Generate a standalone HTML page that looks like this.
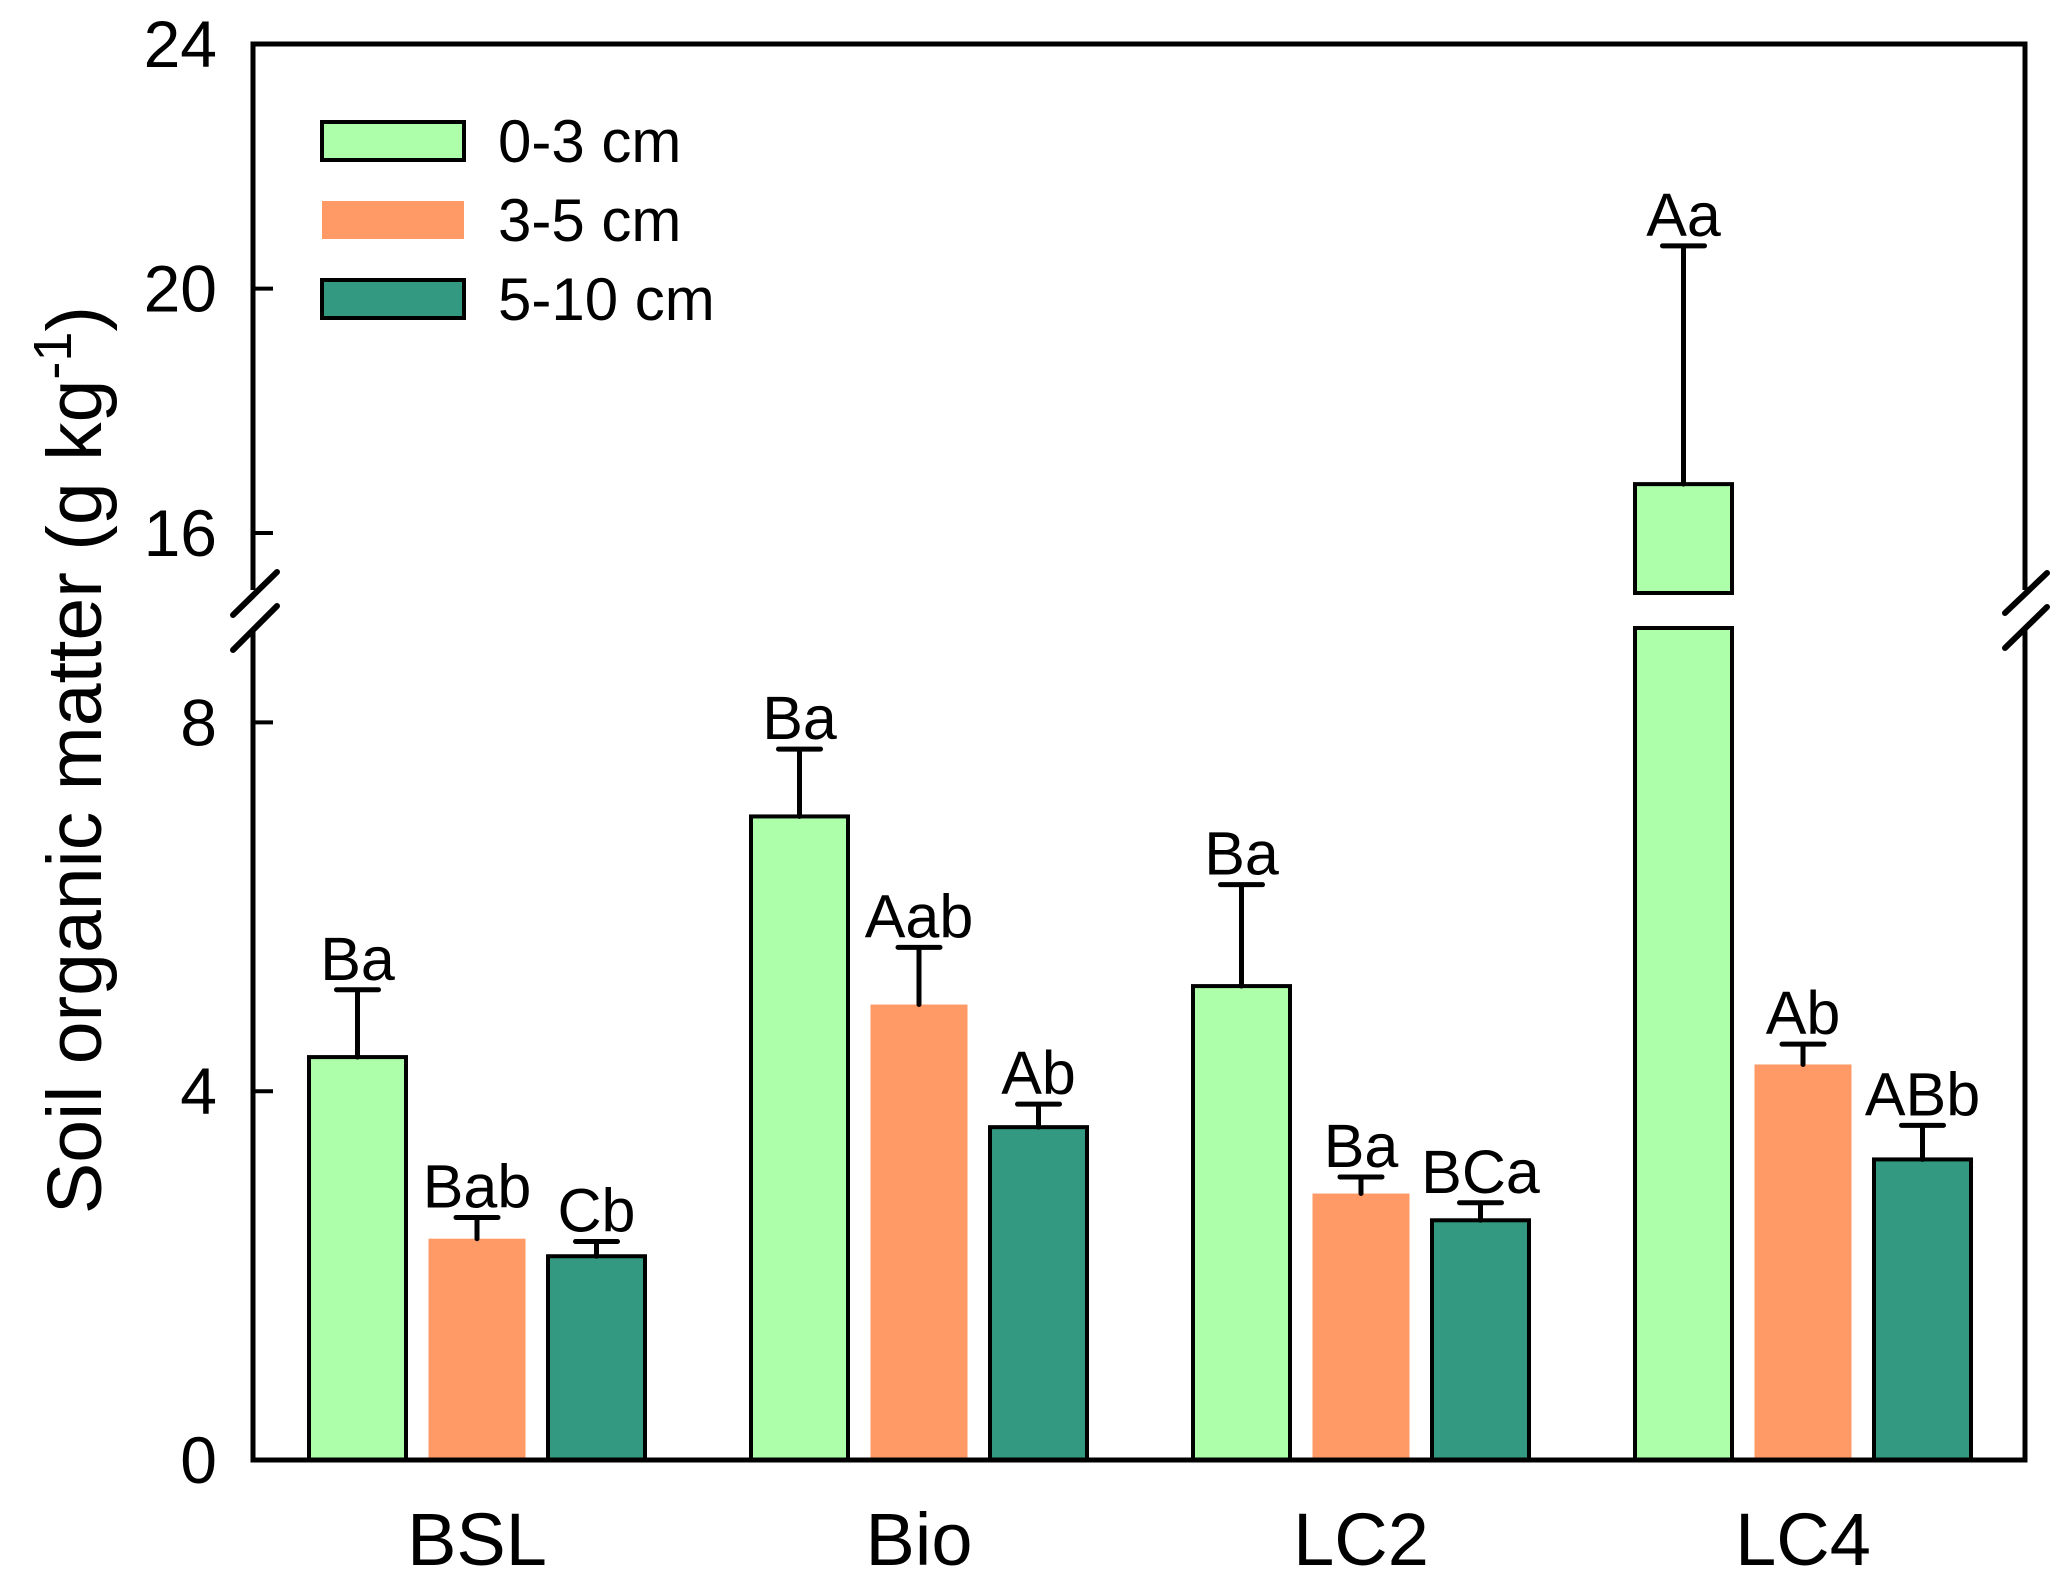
<!DOCTYPE html>
<html><head><meta charset="utf-8"><style>
html,body{margin:0;padding:0;background:#fff}
svg{display:block;font-family:"Liberation Sans",Arial,sans-serif}
</style></head><body>
<svg id="chart" width="2067" height="1582" viewBox="0 0 2067 1582">
<g id="plot"></g>
</svg>
<script>
const categories = ["BSL", "Bio", "LC2", "LC4"];
const seriesNames = ["0-3 cm", "3-5 cm", "5-10 cm"];
const values0_3 = [4.37, 6.98, 5.14, 16.8];
const values3_5 = [2.40, 4.94, 2.89, 4.29];
const values5_10 = [2.21, 3.61, 2.60, 3.26];
const err0_3 = [5.10, 7.71, 6.24, 20.7];
const err3_5 = [2.63, 5.56, 3.07, 4.51];
const err5_10 = [2.37, 3.86, 2.79, 3.63];
const letters0_3 = ["Ba", "Ba", "Ba", "Aa"];
const letters3_5 = ["Bab", "Aab", "Ba", "Ab"];
const letters5_10 = ["Cb", "Ab", "BCa", "ABb"];
const lowerTicks = [0, 4, 8];
const upperTicks = [16, 20, 24];

const colors = ["#adffaa", "#ff9a66", "#339980"];
const NS = "http://www.w3.org/2000/svg";
const g = document.getElementById("plot");
const L = 253, R = 2025, B = 1460, T = 44;
const lowY0 = 1460, lowPer = 92.2;
const upY16 = 533, upPer = 61.1;
const lowTop = 628, upBottom = 593;
function y(v){ return v <= 9.5 ? lowY0 - v*lowPer : upY16 - (v-16)*upPer; }
function xBar(ci, si){ return 309 + ci*442 + si*119.5; }
const BW = 97;

function el(tag, attrs, parent){
  const e = document.createElementNS(NS, tag);
  for (const k in attrs) e.setAttribute(k, attrs[k]);
  (parent||g).appendChild(e); return e;
}
const vals = [values0_3, values3_5, values5_10];
const errs = [err0_3, err3_5, err5_10];
const lets = [letters0_3, letters3_5, letters5_10];

for (let ci=0; ci<categories.length; ci++){
  for (let si=0; si<3; si++){
    const v = vals[si][ci], x = xBar(ci, si);
    const stroke = si===1 ? "none" : "#000";
    const cx = x + BW/2;
    if (v > 9.5){
      const r1 = el("rect",{x:x,y:lowTop,width:BW,height:B-lowTop,fill:colors[si],stroke:stroke,"stroke-width":4});
      
      
      const r2 = el("rect",{x:x,y:y(v),width:BW,height:upBottom-y(v),fill:colors[si],stroke:stroke,"stroke-width":4});
      
      
    } else {
      const r = el("rect",{x:x,y:y(v),width:BW,height:B-y(v),fill:colors[si],stroke:stroke,"stroke-width":4});
      
      
    }
    const ey = y(errs[si][ci]);
    const eb = el("path",{d:`M${cx},${y(v)}V${ey}M${cx-21},${ey}H${cx+21}`,stroke:"#000","stroke-width":5,fill:"none","stroke-linecap":"round"});
    
    
    const t = el("text",{x:cx,y:ey-10,"text-anchor":"middle","font-size":61,fill:"#000"});
    t.textContent = lets[si][ci];
    
    
  }
  const cl = el("text",{x:xBar(ci,1)+BW/2,y:1565,"text-anchor":"middle","font-size":74,fill:"#000"});
  cl.textContent = categories[ci];
  
  
}

const ax = el("path",{d:`M${L},590V${T}H${R}V590M${R},630V${B}H${L}V630`,stroke:"#000","stroke-width":5,fill:"none"});


const br = el("path",{d:"M233,615L277,572M233,650L277,606M2005,613L2047,573M2005,648L2047,607",stroke:"#000","stroke-width":6,"stroke-linecap":"round"});



const allTicks = lowerTicks.concat(upperTicks);
for (const tv of allTicks){
  const ty = y(tv);
  const tk = el("line",{x1:L,x2:L+20,y1:ty,y2:ty,stroke:"#000","stroke-width":4});
  
  
  const tl = el("text",{x:217,y:ty+23,"text-anchor":"end","font-size":66,fill:"#000"});
  tl.textContent = tv;
  
  
}

const yt = el("text",{x:0,y:0,transform:"translate(101,760) rotate(-90)","text-anchor":"middle","font-size":77,fill:"#000"});


yt.appendChild(document.createTextNode("Soil organic matter (g kg"));
const sup = el("tspan",{dy:-30,"font-size":54},yt); sup.textContent = "-1";
const cls = el("tspan",{dy:30},yt); cls.textContent = ")";

const legY = [122, 201, 280];
for (let si=0; si<3; si++){
  const lr = el("rect",{x:322,y:legY[si],width:142,height:38,fill:colors[si],stroke:si===1?"none":"#000","stroke-width":4});
  
  
  const lt = el("text",{x:498,y:legY[si]+40,"font-size":60,fill:"#000"});
  lt.textContent = seriesNames[si];
  
  
}
</script>
</body></html>
